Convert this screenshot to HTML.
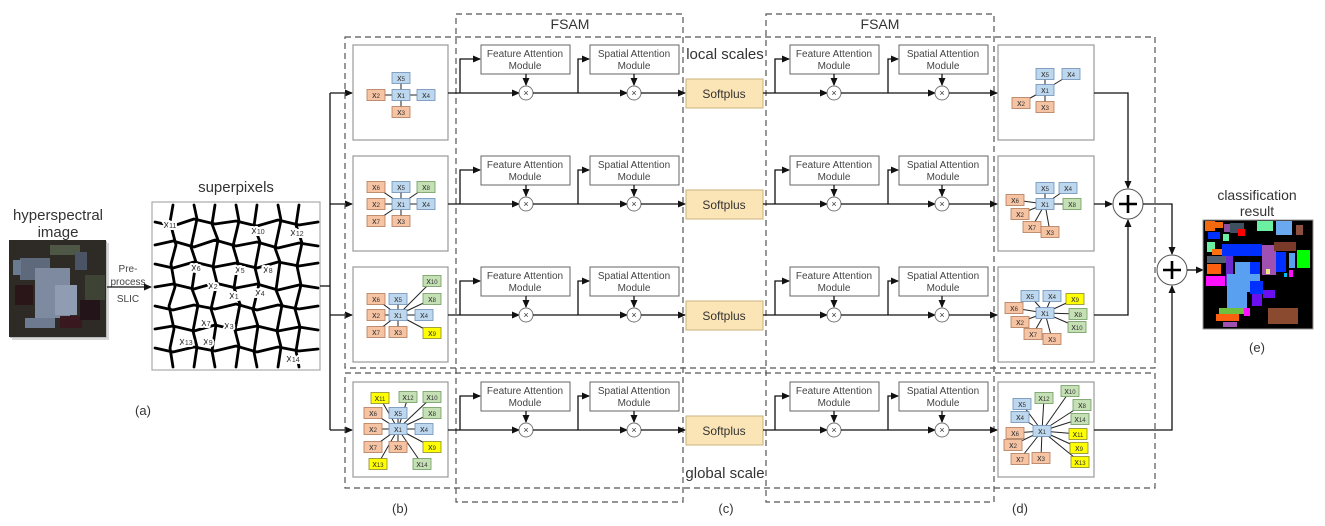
<!DOCTYPE html>
<html><head><meta charset="utf-8"><style>
html,body{margin:0;padding:0;background:#fff;}
svg{display:block;font-family:"Liberation Sans",sans-serif;}
.n text{font-size:9px;fill:#333;text-anchor:middle;}
.n tspan{font-size:6px;}
.B rect{fill:#bdd7ee;stroke:#6d8fb5;stroke-width:.8}
.O rect{fill:#f6c3a3;stroke:#b07a5a;stroke-width:.8}
.G rect{fill:#c5e0b4;stroke:#6f9a5f;stroke-width:.8}
.Y rect{fill:#ffff00;stroke:#8a8a30;stroke-width:.8}
.box{fill:#fff;stroke:#999;stroke-width:1.2}
.mod{fill:#fff;stroke:#666;stroke-width:1}
.mt{font-size:10px;fill:#444;text-anchor:middle}
.ln{stroke:#111;stroke-width:1.3;fill:none}
.dash{fill:none;stroke:#555;stroke-width:1.2;stroke-dasharray:6 4}
.gl line{stroke:#222;stroke-width:1}
.lab text{paint-order:stroke;stroke:#fff;stroke-width:4px;stroke-linejoin:round}
</style></head><body>
<svg width="1325" height="526" viewBox="0 0 1325 526" xmlns="http://www.w3.org/2000/svg">
<defs>
<marker id="a" markerWidth="8" markerHeight="8" refX="7" refY="4" orient="auto" markerUnits="userSpaceOnUse"><path d="M0,0.5 L8,4 L0,7.5z" fill="#111"/></marker>
<g id="mul"><circle r="7" fill="#fff" stroke="#777" stroke-width="1"/><text y="3" font-size="9" text-anchor="middle" fill="#333">×</text></g>
<g id="plus"><circle r="15" fill="#fff" stroke="#555" stroke-width="1"/><path d="M-9,0H9M0,-9V9" stroke="#000" stroke-width="2.6"/></g>
</defs>

<!-- hyperspectral image -->
<text x="58" y="220" font-size="15" text-anchor="middle" fill="#333">hyperspectral</text>
<text x="58" y="237" font-size="15" text-anchor="middle" fill="#333">image</text>
<g>
<rect x="12" y="243" width="97" height="97" fill="#d8d8d8"/>
<rect x="10" y="241" width="97" height="97" fill="#bbb"/>
<rect x="9" y="240" width="97" height="97" fill="#2e2a26"/>
<rect x="20" y="258" width="30" height="22" fill="#5e6a7c"/>
<rect x="35" y="268" width="35" height="50" fill="#7d8aa0"/>
<rect x="55" y="285" width="22" height="30" fill="#8f9cb2"/>
<rect x="15" y="285" width="18" height="20" fill="#2a1518"/>
<rect x="50" y="245" width="30" height="10" fill="#4e5646"/>
<rect x="85" y="275" width="20" height="25" fill="#3e4336"/>
<rect x="25" y="318" width="30" height="10" fill="#6e7a90"/>
<rect x="60" y="316" width="22" height="12" fill="#3a1820"/>
<rect x="80" y="300" width="20" height="20" fill="#221418"/>
<rect x="13" y="260" width="8" height="15" fill="#6a7a90"/>
<rect x="75" y="252" width="12" height="18" fill="#4a5464"/>
</g>
<text x="128" y="272" font-size="10" text-anchor="middle" fill="#444">Pre-</text>
<text x="128" y="285" font-size="10" text-anchor="middle" fill="#444">process</text>
<text x="128" y="302" font-size="10" text-anchor="middle" fill="#444">SLIC</text>
<line class="ln" x1="107" y1="287" x2="151" y2="287" marker-end="url(#a)"/>

<!-- superpixels -->
<text x="236" y="192" font-size="15" text-anchor="middle" fill="#333">superpixels</text>
<rect x="152" y="202" width="168" height="168" fill="#fff" stroke="#999"/>
<g stroke="#000" stroke-width="2.8" fill="none" stroke-linejoin="round" stroke-linecap="round">
<polyline points="155,222 173,226 194,219 215,224 236,221 257,226 278,220 299,225 318,222"/>
<polyline points="155,245 173,241 194,247 215,240 236,246 257,242 278,248 299,243 318,246"/>
<polyline points="155,264 173,268 194,262 215,267 236,263 257,268 278,262 299,266 318,263"/>
<polyline points="155,287 173,284 194,289 215,283 236,288 257,284 278,290 299,285 318,288"/>
<polyline points="155,306 173,310 194,305 215,309 236,304 257,310 278,305 299,309 318,306"/>
<polyline points="155,329 173,326 194,331 215,325 236,330 257,326 278,331 299,327 318,330"/>
<polyline points="155,348 173,352 194,347 215,351 236,346 257,352 278,347 299,351 318,349"/>
<polyline points="173,205 170,222 176,245 171,264 175,287 169,306 174,329 170,348 173,367"/>
<polyline points="194,205 197,219 191,247 196,262 192,289 198,305 193,331 197,347 194,367"/>
<polyline points="215,205 212,224 218,240 213,267 217,283 211,309 216,325 212,351 215,367"/>
<polyline points="236,205 239,221 233,246 238,263 234,288 240,304 235,330 239,346 236,367"/>
<polyline points="257,205 254,226 260,242 255,268 259,284 253,310 258,326 254,352 257,367"/>
<polyline points="278,205 281,220 275,248 280,262 276,290 282,305 277,331 281,347 278,367"/>
<polyline points="299,205 296,225 302,243 297,266 301,285 295,309 300,327 296,351 299,367"/>
</g>
<g class="lab" font-size="11" fill="#333" text-anchor="middle">
<text x="170" y="228">x<tspan font-size="7">11</tspan></text>
<text x="258" y="234">x<tspan font-size="7">10</tspan></text>
<text x="297" y="236">x<tspan font-size="7">12</tspan></text>
<text x="196" y="271">x<tspan font-size="7">6</tspan></text>
<text x="240" y="273">x<tspan font-size="7">5</tspan></text>
<text x="268" y="273">x<tspan font-size="7">8</tspan></text>
<text x="213" y="289">x<tspan font-size="7">2</tspan></text>
<text x="234" y="299">x<tspan font-size="7">1</tspan></text>
<text x="260" y="296">x<tspan font-size="7">4</tspan></text>
<text x="206" y="326">x<tspan font-size="7">7</tspan></text>
<text x="229" y="329">x<tspan font-size="7">3</tspan></text>
<text x="186" y="345">x<tspan font-size="7">13</tspan></text>
<text x="208" y="345">x<tspan font-size="7">9</tspan></text>
<text x="293" y="362">x<tspan font-size="7">14</tspan></text>
</g>
<text x="143" y="415" font-size="13" text-anchor="middle" fill="#333">(a)</text>

<!-- splitter -->
<line class="ln" x1="320" y1="286" x2="330" y2="286"/>
<line class="ln" x1="330" y1="93" x2="330" y2="430"/>
<line class="ln" x1="330" y1="93" x2="352" y2="93" marker-end="url(#a)"/>
<line class="ln" x1="330" y1="204" x2="352" y2="204" marker-end="url(#a)"/>
<line class="ln" x1="330" y1="315" x2="352" y2="315" marker-end="url(#a)"/>
<line class="ln" x1="330" y1="430" x2="352" y2="430" marker-end="url(#a)"/>

<!-- dashed regions -->
<rect class="dash" x="345" y="37" width="810" height="331"/>
<rect class="dash" x="345" y="373" width="810" height="115"/>
<rect class="dash" x="456" y="14" width="227" height="488"/>
<rect class="dash" x="766" y="14" width="228" height="488"/>
<text x="570" y="29" font-size="14" text-anchor="middle" fill="#333">FSAM</text>
<text x="880" y="29" font-size="14" text-anchor="middle" fill="#333">FSAM</text>
<text x="725" y="59" font-size="15" text-anchor="middle" fill="#333">local scales</text>
<text x="725" y="478" font-size="15" text-anchor="middle" fill="#333">global scale</text>
<text x="400" y="513" font-size="13" text-anchor="middle" fill="#333">(b)</text>
<text x="726" y="513" font-size="13" text-anchor="middle" fill="#333">(c)</text>
<text x="1020" y="513" font-size="13" text-anchor="middle" fill="#333">(d)</text>
<text x="1257" y="352" font-size="13" text-anchor="middle" fill="#333">(e)</text>

<!-- rows -->
<g id="row0">
<rect class="box" x="353" y="45" width="95" height="95"/>
<rect class="box" x="998" y="45" width="96" height="95"/>
<line class="ln" x1="448" y1="93" x2="519" y2="93" marker-end="url(#a)"/>
<polyline class="ln" points="460,93 460,59 480,59" marker-end="url(#a)"/>
<rect class="mod" x="481" y="45" width="89" height="29"/>
<text class="mt" x="525" y="57">Feature Attention</text><text class="mt" x="525" y="69">Module</text>
<line class="ln" x1="526" y1="74" x2="526" y2="85" marker-end="url(#a)"/>
<use href="#mul" x="526" y="93"/>
<line class="ln" x1="533" y1="93" x2="627" y2="93" marker-end="url(#a)"/>
<polyline class="ln" points="578,93 578,59 589,59" marker-end="url(#a)"/>
<rect class="mod" x="590" y="45" width="89" height="29"/>
<text class="mt" x="634" y="57">Spatial Attention</text><text class="mt" x="634" y="69">Module</text>
<line class="ln" x1="634" y1="74" x2="634" y2="85" marker-end="url(#a)"/>
<use href="#mul" x="634" y="93"/>
<line class="ln" x1="641" y1="93" x2="685" y2="93" marker-end="url(#a)"/>
<rect x="686" y="79" width="77" height="29" fill="#fbe5b6" stroke="#c9b27c"/>
<text x="724" y="98" font-size="12" text-anchor="middle" fill="#333">Softplus</text>
<line class="ln" x1="763" y1="93" x2="827" y2="93" marker-end="url(#a)"/>
<polyline class="ln" points="775,93 775,59 789,59" marker-end="url(#a)"/>
<rect class="mod" x="790" y="45" width="89" height="29"/>
<text class="mt" x="834" y="57">Feature Attention</text><text class="mt" x="834" y="69">Module</text>
<line class="ln" x1="834" y1="74" x2="834" y2="85" marker-end="url(#a)"/>
<use href="#mul" x="834" y="93"/>
<line class="ln" x1="841" y1="93" x2="935" y2="93" marker-end="url(#a)"/>
<polyline class="ln" points="888,93 888,59 898,59" marker-end="url(#a)"/>
<rect class="mod" x="899" y="45" width="89" height="29"/>
<text class="mt" x="943" y="57">Spatial Attention</text><text class="mt" x="943" y="69">Module</text>
<line class="ln" x1="942" y1="74" x2="942" y2="85" marker-end="url(#a)"/>
<use href="#mul" x="942" y="93"/>
<line class="ln" x1="949" y1="93" x2="997" y2="93" marker-end="url(#a)"/>
</g>
<use href="#row0" y="111"/>
<use href="#row0" y="222"/>
<use href="#row0" y="337"/>

<!-- graphs -->
<g class="gl">
<line x1="401" y1="95" x2="401" y2="78"/><line x1="401" y1="95" x2="426" y2="95"/><line x1="401" y1="95" x2="376" y2="95"/><line x1="401" y1="95" x2="401" y2="112"/>
<line x1="401" y1="204" x2="376" y2="187"/><line x1="401" y1="204" x2="401" y2="187"/><line x1="401" y1="204" x2="426" y2="187"/><line x1="401" y1="204" x2="376" y2="204"/><line x1="401" y1="204" x2="426" y2="204"/><line x1="401" y1="204" x2="376" y2="221"/><line x1="401" y1="204" x2="401" y2="221"/>
<line x1="398" y1="315" x2="376" y2="299"/><line x1="398" y1="315" x2="398" y2="299"/><line x1="398" y1="315" x2="432" y2="281"/><line x1="398" y1="315" x2="432" y2="299"/><line x1="398" y1="315" x2="376" y2="315"/><line x1="398" y1="315" x2="424" y2="315"/><line x1="398" y1="315" x2="376" y2="332"/><line x1="398" y1="315" x2="398" y2="332"/><line x1="398" y1="315" x2="432" y2="333"/>
<line x1="398" y1="429" x2="380" y2="398"/><line x1="398" y1="429" x2="408" y2="397"/><line x1="398" y1="429" x2="432" y2="397"/><line x1="398" y1="429" x2="373" y2="413"/><line x1="398" y1="429" x2="398" y2="413"/><line x1="398" y1="429" x2="432" y2="413"/><line x1="398" y1="429" x2="373" y2="429"/><line x1="398" y1="429" x2="424" y2="429"/><line x1="398" y1="429" x2="373" y2="447"/><line x1="398" y1="429" x2="398" y2="447"/><line x1="398" y1="429" x2="432" y2="447"/><line x1="398" y1="429" x2="378" y2="464"/><line x1="398" y1="429" x2="422" y2="464"/>
<line x1="1045" y1="90" x2="1045" y2="74"/><line x1="1045" y1="90" x2="1071" y2="74"/><line x1="1045" y1="90" x2="1021" y2="103"/><line x1="1045" y1="90" x2="1045" y2="107"/>
<line x1="1045" y1="204" x2="1045" y2="188"/><line x1="1045" y1="204" x2="1068" y2="188"/><line x1="1045" y1="204" x2="1015" y2="200"/><line x1="1045" y1="204" x2="1072" y2="204"/><line x1="1045" y1="204" x2="1020" y2="214"/><line x1="1045" y1="204" x2="1032" y2="227"/><line x1="1045" y1="204" x2="1050" y2="232"/>
<line x1="1045" y1="313" x2="1030" y2="296"/><line x1="1045" y1="313" x2="1052" y2="296"/><line x1="1045" y1="313" x2="1075" y2="299"/><line x1="1045" y1="313" x2="1014" y2="308"/><line x1="1045" y1="313" x2="1078" y2="314"/><line x1="1045" y1="313" x2="1020" y2="322"/><line x1="1045" y1="313" x2="1077" y2="327"/><line x1="1045" y1="313" x2="1033" y2="334"/><line x1="1045" y1="313" x2="1052" y2="339"/>
<line x1="1042" y1="431" x2="1022" y2="404"/><line x1="1042" y1="431" x2="1044" y2="398"/><line x1="1042" y1="431" x2="1070" y2="391"/><line x1="1042" y1="431" x2="1082" y2="405"/><line x1="1042" y1="431" x2="1020" y2="417"/><line x1="1042" y1="431" x2="1080" y2="419"/><line x1="1042" y1="431" x2="1015" y2="433"/><line x1="1042" y1="431" x2="1078" y2="434"/><line x1="1042" y1="431" x2="1013" y2="445"/><line x1="1042" y1="431" x2="1079" y2="448"/><line x1="1042" y1="431" x2="1020" y2="459"/><line x1="1042" y1="431" x2="1041" y2="458"/><line x1="1042" y1="431" x2="1080" y2="462"/>
</g>
<g class="n">
<g class="B" transform="translate(401,95)"><rect x="-9" y="-5.5" width="18" height="11"/><text y="3">x<tspan>1</tspan></text></g>
<g class="B" transform="translate(401,78)"><rect x="-9" y="-5.5" width="18" height="11"/><text y="3">x<tspan>5</tspan></text></g>
<g class="B" transform="translate(426,95)"><rect x="-9" y="-5.5" width="18" height="11"/><text y="3">x<tspan>4</tspan></text></g>
<g class="O" transform="translate(376,95)"><rect x="-9" y="-5.5" width="18" height="11"/><text y="3">x<tspan>2</tspan></text></g>
<g class="O" transform="translate(401,112)"><rect x="-9" y="-5.5" width="18" height="11"/><text y="3">x<tspan>3</tspan></text></g>

<g class="B" transform="translate(401,204)"><rect x="-9" y="-5.5" width="18" height="11"/><text y="3">x<tspan>1</tspan></text></g>
<g class="O" transform="translate(376,187)"><rect x="-9" y="-5.5" width="18" height="11"/><text y="3">x<tspan>6</tspan></text></g>
<g class="B" transform="translate(401,187)"><rect x="-9" y="-5.5" width="18" height="11"/><text y="3">x<tspan>5</tspan></text></g>
<g class="G" transform="translate(426,187)"><rect x="-9" y="-5.5" width="18" height="11"/><text y="3">x<tspan>8</tspan></text></g>
<g class="O" transform="translate(376,204)"><rect x="-9" y="-5.5" width="18" height="11"/><text y="3">x<tspan>2</tspan></text></g>
<g class="B" transform="translate(426,204)"><rect x="-9" y="-5.5" width="18" height="11"/><text y="3">x<tspan>4</tspan></text></g>
<g class="O" transform="translate(376,221)"><rect x="-9" y="-5.5" width="18" height="11"/><text y="3">x<tspan>7</tspan></text></g>
<g class="O" transform="translate(401,221)"><rect x="-9" y="-5.5" width="18" height="11"/><text y="3">x<tspan>3</tspan></text></g>

<g class="B" transform="translate(398,315)"><rect x="-9" y="-5.5" width="18" height="11"/><text y="3">x<tspan>1</tspan></text></g>
<g class="O" transform="translate(376,299)"><rect x="-9" y="-5.5" width="18" height="11"/><text y="3">x<tspan>6</tspan></text></g>
<g class="B" transform="translate(398,299)"><rect x="-9" y="-5.5" width="18" height="11"/><text y="3">x<tspan>5</tspan></text></g>
<g class="G" transform="translate(432,281)"><rect x="-9" y="-5.5" width="18" height="11"/><text y="3">x<tspan>10</tspan></text></g>
<g class="G" transform="translate(432,299)"><rect x="-9" y="-5.5" width="18" height="11"/><text y="3">x<tspan>8</tspan></text></g>
<g class="O" transform="translate(376,315)"><rect x="-9" y="-5.5" width="18" height="11"/><text y="3">x<tspan>2</tspan></text></g>
<g class="B" transform="translate(424,315)"><rect x="-9" y="-5.5" width="18" height="11"/><text y="3">x<tspan>4</tspan></text></g>
<g class="O" transform="translate(376,332)"><rect x="-9" y="-5.5" width="18" height="11"/><text y="3">x<tspan>7</tspan></text></g>
<g class="O" transform="translate(398,332)"><rect x="-9" y="-5.5" width="18" height="11"/><text y="3">x<tspan>3</tspan></text></g>
<g class="Y" transform="translate(432,333)"><rect x="-9" y="-5.5" width="18" height="11"/><text y="3">x<tspan>9</tspan></text></g>

<g class="B" transform="translate(398,429)"><rect x="-9" y="-5.5" width="18" height="11"/><text y="3">x<tspan>1</tspan></text></g>
<g class="Y" transform="translate(380,398)"><rect x="-9" y="-5.5" width="18" height="11"/><text y="3">x<tspan>11</tspan></text></g>
<g class="G" transform="translate(408,397)"><rect x="-9" y="-5.5" width="18" height="11"/><text y="3">x<tspan>12</tspan></text></g>
<g class="G" transform="translate(432,397)"><rect x="-9" y="-5.5" width="18" height="11"/><text y="3">x<tspan>10</tspan></text></g>
<g class="O" transform="translate(373,413)"><rect x="-9" y="-5.5" width="18" height="11"/><text y="3">x<tspan>6</tspan></text></g>
<g class="B" transform="translate(398,413)"><rect x="-9" y="-5.5" width="18" height="11"/><text y="3">x<tspan>5</tspan></text></g>
<g class="G" transform="translate(432,413)"><rect x="-9" y="-5.5" width="18" height="11"/><text y="3">x<tspan>8</tspan></text></g>
<g class="O" transform="translate(373,429)"><rect x="-9" y="-5.5" width="18" height="11"/><text y="3">x<tspan>2</tspan></text></g>
<g class="B" transform="translate(424,429)"><rect x="-9" y="-5.5" width="18" height="11"/><text y="3">x<tspan>4</tspan></text></g>
<g class="O" transform="translate(373,447)"><rect x="-9" y="-5.5" width="18" height="11"/><text y="3">x<tspan>7</tspan></text></g>
<g class="O" transform="translate(398,447)"><rect x="-9" y="-5.5" width="18" height="11"/><text y="3">x<tspan>3</tspan></text></g>
<g class="Y" transform="translate(432,447)"><rect x="-9" y="-5.5" width="18" height="11"/><text y="3">x<tspan>9</tspan></text></g>
<g class="Y" transform="translate(378,464)"><rect x="-9" y="-5.5" width="18" height="11"/><text y="3">x<tspan>13</tspan></text></g>
<g class="G" transform="translate(422,464)"><rect x="-9" y="-5.5" width="18" height="11"/><text y="3">x<tspan>14</tspan></text></g>

<g class="B" transform="translate(1045,90)"><rect x="-9" y="-5.5" width="18" height="11"/><text y="3">x<tspan>1</tspan></text></g>
<g class="B" transform="translate(1045,74)"><rect x="-9" y="-5.5" width="18" height="11"/><text y="3">x<tspan>5</tspan></text></g>
<g class="B" transform="translate(1071,74)"><rect x="-9" y="-5.5" width="18" height="11"/><text y="3">x<tspan>4</tspan></text></g>
<g class="O" transform="translate(1021,103)"><rect x="-9" y="-5.5" width="18" height="11"/><text y="3">x<tspan>2</tspan></text></g>
<g class="O" transform="translate(1045,107)"><rect x="-9" y="-5.5" width="18" height="11"/><text y="3">x<tspan>3</tspan></text></g>

<g class="B" transform="translate(1045,204)"><rect x="-9" y="-5.5" width="18" height="11"/><text y="3">x<tspan>1</tspan></text></g>
<g class="B" transform="translate(1045,188)"><rect x="-9" y="-5.5" width="18" height="11"/><text y="3">x<tspan>5</tspan></text></g>
<g class="B" transform="translate(1068,188)"><rect x="-9" y="-5.5" width="18" height="11"/><text y="3">x<tspan>4</tspan></text></g>
<g class="O" transform="translate(1015,200)"><rect x="-9" y="-5.5" width="18" height="11"/><text y="3">x<tspan>6</tspan></text></g>
<g class="G" transform="translate(1072,204)"><rect x="-9" y="-5.5" width="18" height="11"/><text y="3">x<tspan>8</tspan></text></g>
<g class="O" transform="translate(1020,214)"><rect x="-9" y="-5.5" width="18" height="11"/><text y="3">x<tspan>2</tspan></text></g>
<g class="O" transform="translate(1032,227)"><rect x="-9" y="-5.5" width="18" height="11"/><text y="3">x<tspan>7</tspan></text></g>
<g class="O" transform="translate(1050,232)"><rect x="-9" y="-5.5" width="18" height="11"/><text y="3">x<tspan>3</tspan></text></g>

<g class="B" transform="translate(1045,313)"><rect x="-9" y="-5.5" width="18" height="11"/><text y="3">x<tspan>1</tspan></text></g>
<g class="B" transform="translate(1030,296)"><rect x="-9" y="-5.5" width="18" height="11"/><text y="3">x<tspan>5</tspan></text></g>
<g class="B" transform="translate(1052,296)"><rect x="-9" y="-5.5" width="18" height="11"/><text y="3">x<tspan>4</tspan></text></g>
<g class="Y" transform="translate(1075,299)"><rect x="-9" y="-5.5" width="18" height="11"/><text y="3">x<tspan>9</tspan></text></g>
<g class="O" transform="translate(1014,308)"><rect x="-9" y="-5.5" width="18" height="11"/><text y="3">x<tspan>6</tspan></text></g>
<g class="G" transform="translate(1078,314)"><rect x="-9" y="-5.5" width="18" height="11"/><text y="3">x<tspan>8</tspan></text></g>
<g class="O" transform="translate(1020,322)"><rect x="-9" y="-5.5" width="18" height="11"/><text y="3">x<tspan>2</tspan></text></g>
<g class="G" transform="translate(1077,327)"><rect x="-9" y="-5.5" width="18" height="11"/><text y="3">x<tspan>10</tspan></text></g>
<g class="O" transform="translate(1033,334)"><rect x="-9" y="-5.5" width="18" height="11"/><text y="3">x<tspan>7</tspan></text></g>
<g class="O" transform="translate(1052,339)"><rect x="-9" y="-5.5" width="18" height="11"/><text y="3">x<tspan>3</tspan></text></g>

<g class="B" transform="translate(1042,431)"><rect x="-9" y="-5.5" width="18" height="11"/><text y="3">x<tspan>1</tspan></text></g>
<g class="B" transform="translate(1022,404)"><rect x="-9" y="-5.5" width="18" height="11"/><text y="3">x<tspan>5</tspan></text></g>
<g class="G" transform="translate(1044,398)"><rect x="-9" y="-5.5" width="18" height="11"/><text y="3">x<tspan>12</tspan></text></g>
<g class="G" transform="translate(1070,391)"><rect x="-9" y="-5.5" width="18" height="11"/><text y="3">x<tspan>10</tspan></text></g>
<g class="G" transform="translate(1082,405)"><rect x="-9" y="-5.5" width="18" height="11"/><text y="3">x<tspan>8</tspan></text></g>
<g class="B" transform="translate(1020,417)"><rect x="-9" y="-5.5" width="18" height="11"/><text y="3">x<tspan>4</tspan></text></g>
<g class="G" transform="translate(1080,419)"><rect x="-9" y="-5.5" width="18" height="11"/><text y="3">x<tspan>14</tspan></text></g>
<g class="O" transform="translate(1015,433)"><rect x="-9" y="-5.5" width="18" height="11"/><text y="3">x<tspan>6</tspan></text></g>
<g class="Y" transform="translate(1078,434)"><rect x="-9" y="-5.5" width="18" height="11"/><text y="3">x<tspan>11</tspan></text></g>
<g class="O" transform="translate(1013,445)"><rect x="-9" y="-5.5" width="18" height="11"/><text y="3">x<tspan>2</tspan></text></g>
<g class="Y" transform="translate(1079,448)"><rect x="-9" y="-5.5" width="18" height="11"/><text y="3">x<tspan>9</tspan></text></g>
<g class="O" transform="translate(1020,459)"><rect x="-9" y="-5.5" width="18" height="11"/><text y="3">x<tspan>7</tspan></text></g>
<g class="O" transform="translate(1041,458)"><rect x="-9" y="-5.5" width="18" height="11"/><text y="3">x<tspan>3</tspan></text></g>
<g class="Y" transform="translate(1080,462)"><rect x="-9" y="-5.5" width="18" height="11"/><text y="3">x<tspan>13</tspan></text></g>
</g>

<!-- fusion -->
<polyline class="ln" points="1094,93 1128,93 1128,188" marker-end="url(#a)"/>
<line class="ln" x1="1094" y1="204" x2="1112" y2="204" marker-end="url(#a)"/>
<polyline class="ln" points="1094,315 1128,315 1128,220" marker-end="url(#a)"/>
<use href="#plus" x="1128" y="204"/>
<polyline class="ln" points="1143,204 1172,204 1172,254" marker-end="url(#a)"/>
<polyline class="ln" points="1094,430 1172,430 1172,286" marker-end="url(#a)"/>
<use href="#plus" x="1172" y="270"/>
<line class="ln" x1="1187" y1="270" x2="1203" y2="270" marker-end="url(#a)"/>

<!-- classification result -->
<text x="1257" y="200" font-size="14" text-anchor="middle" fill="#333">classification</text>
<text x="1257" y="216" font-size="14" text-anchor="middle" fill="#333">result</text>
<rect x="1203" y="220" width="110" height="109" fill="#000" stroke="#999"/>
<g>
<rect x="1205" y="221" width="10" height="10" fill="#f26a10"/>
<rect x="1215" y="222" width="8" height="6" fill="#f26a10"/>
<rect x="1224" y="224" width="6" height="8" fill="#8f4f9f"/>
<rect x="1230" y="223" width="14" height="10" fill="#3f5060"/>
<rect x="1238" y="229" width="7" height="7" fill="#ff0000"/>
<rect x="1257" y="221" width="16" height="10" fill="#6af0a0"/>
<rect x="1276" y="221" width="16" height="14" fill="#6aa8f0"/>
<rect x="1296" y="225" width="7" height="10" fill="#8f4f3f"/>
<rect x="1208" y="232" width="12" height="7" fill="#0030ff"/>
<rect x="1223" y="234" width="6" height="7" fill="#6af0a0"/>
<rect x="1207" y="242" width="8" height="10" fill="#6af0a0"/>
<rect x="1212" y="249" width="14" height="6" fill="#ff7010"/>
<rect x="1222" y="244" width="40" height="12" fill="#0030ff"/>
<rect x="1262" y="245" width="14" height="30" fill="#a050b0"/>
<rect x="1274" y="242" width="22" height="9" fill="#7a3a2a"/>
<rect x="1276" y="252" width="10" height="20" fill="#0030ff"/>
<rect x="1289" y="253" width="6" height="15" fill="#5aa0f0"/>
<rect x="1297" y="250" width="13" height="18" fill="#00ff00"/>
<rect x="1207" y="256" width="20" height="7" fill="#506070"/>
<rect x="1226" y="256" width="7" height="30" fill="#6a2ad0"/>
<rect x="1235" y="262" width="25" height="30" fill="#5aa0f0"/>
<rect x="1227" y="274" width="20" height="40" fill="#5aa0f0"/>
<rect x="1250" y="262" width="10" height="12" fill="#0030ff"/>
<rect x="1207" y="264" width="14" height="10" fill="#ff6010"/>
<rect x="1206" y="276" width="19" height="10" fill="#ff10ff"/>
<rect x="1250" y="281" width="13" height="13" fill="#0030ff"/>
<rect x="1252" y="294" width="10" height="12" fill="#6a10f0"/>
<rect x="1263" y="290" width="12" height="8" fill="#6a10f0"/>
<rect x="1266" y="269" width="4" height="5" fill="#eaea80"/>
<rect x="1284" y="273" width="3" height="4" fill="#00c0f0"/>
<rect x="1289" y="270" width="4" height="7" fill="#ff10ff"/>
<rect x="1219" y="308" width="24" height="6" fill="#70c040"/>
<rect x="1216" y="314" width="23" height="7" fill="#ff6010"/>
<rect x="1244" y="308" width="6" height="8" fill="#ff10ff"/>
<rect x="1223" y="322" width="14" height="5" fill="#a050b0"/>
<rect x="1268" y="308" width="30" height="16" fill="#8a4a30"/>
</g>
</svg>
</body></html>
